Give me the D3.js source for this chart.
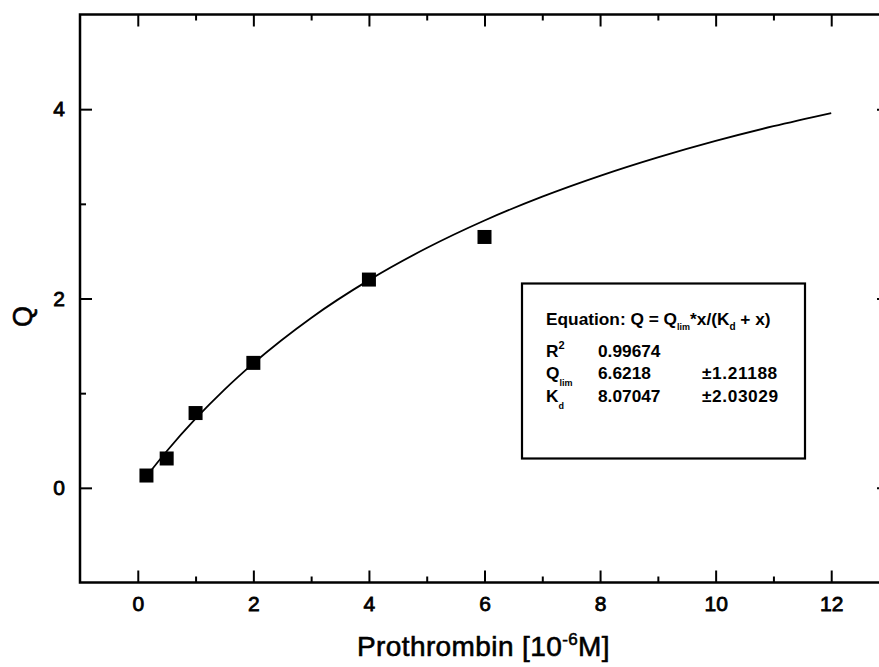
<!DOCTYPE html>
<html><head><meta charset="utf-8">
<script src="https://cdn.jsdelivr.net/npm/d3@7"></script>
<style>body{margin:0;background:#fff} svg{display:block}</style>
</head><body><svg id="chart" width="879" height="667"></svg>
<script>
// Data
const concX   = [0.15, 0.5, 1, 2, 4, 6];
const qValues = [0.13, 0.31, 0.79, 1.32, 2.2, 2.65];
// Fitted curve (Q = Qlim*x/(Kd + x)), sampled points
const fitX = [0.15, 0.5, 1, 1.5, 2, 3, 4, 5, 6, 7, 8, 9, 10, 11, 12];
const fitQ = [0.121, 0.386, 0.730, 1.038, 1.315, 1.795, 2.194, 2.533, 2.824, 3.076, 3.296, 3.491, 3.665, 3.820, 3.959];
const xMajorTicks = [0, 2, 4, 6, 8, 10, 12];
const xMinorTicks = [1, 3, 5, 7, 9, 11];
const yMajorTicks = [0, 2, 4];
const yMinorTicks = [1, 3];
const legendLabels = ["R", "Q", "K"];
const legendSubs   = ["", "lim", "d"];
const legendSups   = ["2", "", ""];
const legendValues = ["0.99674", "6.6218", "8.07047"];
const legendErrors = ["", "\u00b11.21188", "\u00b12.03029"];

const svg = d3.select("#chart");
const font = "'Liberation Sans', Arial, sans-serif";
const L = 80, R = 889, T = 14.5, B = 582.5;
const x = d3.scaleLinear().domain([-1, 13]).range([L, R]);
const y = d3.scaleLinear().domain([-1, 5]).range([B, T]);

function styleAxis(g) {
  g.select(".domain").remove();
  g.selectAll(".tick line").attr("stroke", "#000").attr("stroke-width", 2);
  g.selectAll(".tick text").attr("fill", "#000").attr("stroke", "#000").attr("stroke-width", 0.8)
    .style("font-family", font).style("font-size", "21px");
}
// bottom
svg.append("g").attr("transform", `translate(0,${B})`)
  .call(d3.axisBottom(x).tickValues(xMajorTicks).tickSizeInner(-12).tickSizeOuter(0).tickPadding(14).tickFormat(d3.format("d")))
  .call(styleAxis);
svg.append("g").attr("transform", `translate(0,${B})`)
  .call(d3.axisBottom(x).tickValues(xMinorTicks).tickSizeInner(-6).tickSizeOuter(0).tickFormat(""))
  .call(styleAxis);
// top
svg.append("g").attr("transform", `translate(0,${T})`)
  .call(d3.axisTop(x).tickValues(xMajorTicks).tickSizeInner(-12).tickSizeOuter(0).tickFormat(""))
  .call(styleAxis);
svg.append("g").attr("transform", `translate(0,${T})`)
  .call(d3.axisTop(x).tickValues(xMinorTicks).tickSizeInner(-6).tickSizeOuter(0).tickFormat(""))
  .call(styleAxis);
// left
svg.append("g").attr("transform", `translate(${L},0)`)
  .call(d3.axisLeft(y).tickValues(yMajorTicks).tickSizeInner(-12).tickSizeOuter(0).tickPadding(15).tickFormat(d3.format("d")))
  .call(styleAxis);
svg.append("g").attr("transform", `translate(${L},0)`)
  .call(d3.axisLeft(y).tickValues(yMinorTicks).tickSizeInner(-6).tickSizeOuter(0).tickFormat(""))
  .call(styleAxis);
// right
svg.append("g").attr("transform", `translate(${R},0)`)
  .call(d3.axisRight(y).tickValues(yMajorTicks).tickSizeInner(-12).tickSizeOuter(0).tickFormat(""))
  .call(styleAxis);
svg.append("g").attr("transform", `translate(${R},0)`)
  .call(d3.axisRight(y).tickValues(yMinorTicks).tickSizeInner(-6).tickSizeOuter(0).tickFormat(""))
  .call(styleAxis);

// frame
svg.append("rect").attr("x", L).attr("y", T).attr("width", R - L).attr("height", B - T)
  .attr("fill", "none").attr("stroke", "#000").attr("stroke-width", 2.5);

// fit curve
const fitData = fitX.map((v, i) => [v, fitQ[i]]);
svg.append("path").datum(fitData)
  .attr("d", d3.line().x(d => x(d[0])).y(d => y(d[1])).curve(d3.curveMonotoneX))
  .attr("fill", "none").attr("stroke", "#000").attr("stroke-width", 1.8);

// points
const ms = 14;
svg.append("g").selectAll("rect").data(concX.map((v, i) => [v, qValues[i]])).join("rect")
  .attr("x", d => x(d[0]) - ms / 2).attr("y", d => y(d[1]) - ms / 2)
  .attr("width", ms).attr("height", ms).attr("fill", "#000");

// axis titles
const xt = svg.append("text").attr("x", (L + R) / 2 - 1).attr("y", 656).attr("text-anchor", "middle")
  .style("font-family", font).style("font-size", "28px").style("letter-spacing", "0.4px")
  .attr("fill", "#000").attr("stroke", "#000").attr("stroke-width", 0.6);
xt.append("tspan").text("Prothrombin [10");
xt.append("tspan").attr("dy", -11).style("font-size", "17px").text("-6");
xt.append("tspan").attr("dy", 11).text("M]");

svg.append("text").attr("transform", `translate(32,${(T + B) / 2 + 18}) rotate(-90)`)
  .attr("text-anchor", "middle").style("font-family", font).style("font-size", "27px")
  .attr("fill", "#000").attr("stroke", "#000").attr("stroke-width", 0.6).text("Q");

// legend box
const lg = svg.append("g");
lg.append("rect").attr("x", 522).attr("y", 283.5).attr("width", 283).attr("height", 175)
  .attr("fill", "#fff").attr("stroke", "#000").attr("stroke-width", 2.2);
const lf = s => s.style("font-family", font).style("font-weight", "bold").attr("fill", "#000");
const fs = "17.3px";
const eq = lg.append("text").attr("x", 546).attr("y", 325).style("font-size", fs).call(lf);
eq.append("tspan").text("Equation: Q = Q");
eq.append("tspan").attr("dy", 5).style("font-size", "9px").text("lim");
eq.append("tspan").attr("dy", -5).text("*x/(K");
eq.append("tspan").attr("dy", 5).style("font-size", "10px").text("d");
eq.append("tspan").attr("dy", -5).text(" + x)");
const rowY = [356.5, 378.5, 402];
legendLabels.forEach((lab, i) => {
  const t = lg.append("text").attr("x", 546).attr("y", rowY[i]).style("font-size", fs).call(lf);
  t.append("tspan").text(lab);
  if (legendSups[i]) t.append("tspan").attr("dy", -8).style("font-size", "11px").text(legendSups[i]);
  if (legendSubs[i]) t.append("tspan").attr("dy", 7).style("font-size", "9px").text(legendSubs[i]);
  lg.append("text").attr("x", 598).attr("y", rowY[i]).style("font-size", fs).call(lf).text(legendValues[i]);
  if (legendErrors[i]) lg.append("text").attr("x", 702).attr("y", rowY[i])
    .style("font-size", fs).style("letter-spacing", "0.6px").call(lf).text(legendErrors[i]);
});
</script></body></html>
